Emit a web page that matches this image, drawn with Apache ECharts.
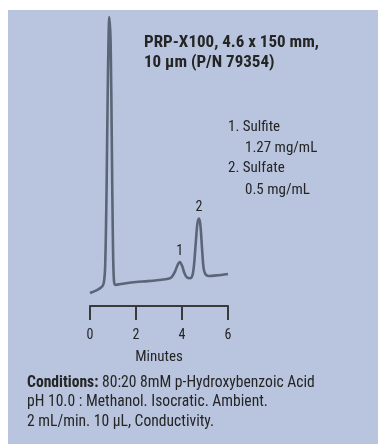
<!DOCTYPE html>
<html>
<head>
<meta charset="utf-8">
<script src="https://cdn.jsdelivr.net/npm/echarts@6/dist/echarts.min.js"></script>
<style>
html,body{margin:0;padding:0;background:#ffffff;}
#c{width:378px;height:446px;}
</style>
</head>
<body>
<div id="c"></div>
<script>
// Retention time (minutes) and detector signal (relative units)
var times  = [0.0, 0.3, 0.5, 0.6, 0.66, 0.72, 0.78, 0.84, 0.9, 0.95, 1.0, 1.04, 1.1, 1.5, 2.0, 2.5, 3.0, 3.4, 3.55, 3.7, 3.8, 3.9, 4.0, 4.1, 4.2, 4.35, 4.45, 4.52, 4.6, 4.67, 4.74, 4.8, 4.87, 4.94, 5.02, 5.15, 5.5, 6.0];
var signal = [4.5, 5.5, 6.5, 8.0, 14, 40, 80, 100, 90, 55, 20, 9, 7.3, 7.8, 8.3, 8.6, 9.0, 9.4, 10.0, 12.0, 14.0, 15.2, 14.0, 11.5, 10.0, 9.6, 10.5, 14, 22, 28.5, 30.3, 28, 20, 13, 11, 10.4, 10.6, 11.1];
var xTicks = [0, 2, 4, 6];
var peakNames = ['1', '2'];
var peakTimes = [3.9, 4.74];
var peakHeights = [15.2, 30.3];
var titleLines = ['PRP-X100, 4.6 x 150 mm,', '10 µm (P/N 79354)'];
var legendLines = ['1. Sulfite', '1.27 mg/mL', '2. Sulfate', '0.5 mg/mL'];
var conditionsLabel = 'Conditions:';
var conditionsLines = [' 80:20 8mM p-Hydroxybenzoic Acid', 'pH 10.0 : Methanol. Isocratic. Ambient.', '2 mL/min. 10 µL, Conductivity.'];

var FONT = "'Roboto Condensed', 'Liberation Sans', sans-serif";
var TXT = '#252525';

var lineData = times.map(function (t, i) { return [t, signal[i]]; });
var marks = peakNames.map(function (n, i) {
  return { name: n, coord: [peakTimes[i], peakHeights[i]] };
});

var chart = echarts.init(document.getElementById('c'), null, { renderer: 'canvas' });
chart.setOption({
  animation: false,
  backgroundColor: 'transparent',
  graphic: [
    { type: 'rect', z: -10, silent: true, shape: { x: 8, y: 10, width: 370, height: 434 }, style: { fill: '#b9c5de' } },
    { type: 'text', left: 144, top: 33, style: { text: titleLines.join('\n'), font: 'bold 17px ' + FONT, fill: TXT, lineHeight: 20 } },
    { type: 'text', left: 228, top: 120, style: { text: legendLines[0], font: '15px ' + FONT, fill: TXT } },
    { type: 'text', left: 245, top: 141, style: { text: legendLines[1], font: '15px ' + FONT, fill: TXT } },
    { type: 'text', left: 228, top: 161, style: { text: legendLines[2], font: '15px ' + FONT, fill: TXT } },
    { type: 'text', left: 245, top: 183, style: { text: legendLines[3], font: '15px ' + FONT, fill: TXT } },
    { type: 'text', left: 27, top: 375, style: {
        text: '{b|' + conditionsLabel + '}{r|' + conditionsLines[0] + '}\n{r|' + conditionsLines[1] + '}\n{r|' + conditionsLines[2] + '}',
        fill: TXT,
        rich: {
          b: { font: 'bold 15.6px ' + FONT, fill: TXT, lineHeight: 19.5 },
          r: { font: '15.6px ' + FONT, fill: TXT, lineHeight: 19.5 }
        }
    } }
  ],
  grid: { left: 90, right: 150, top: 17, bottom: 140, containLabel: false },
  xAxis: {
    type: 'value', min: 0, max: 6, interval: 2,
    axisLine: { show: true, onZero: false, lineStyle: { color: '#3a3a3a', width: 2 } },
    axisTick: { show: true, inside: false, length: 14, lineStyle: { color: '#3a3a3a', width: 2 } },
    splitLine: { show: false },
    axisLabel: { margin: 22, color: TXT, fontFamily: FONT, fontSize: 14,
      customValues: xTicks },
    name: 'Minutes', nameLocation: 'middle', nameGap: 44,
    nameTextStyle: { color: TXT, fontFamily: FONT, fontSize: 15 }
  },
  yAxis: { type: 'value', min: 0, max: 100, show: false, splitLine: { show: false } },
  series: [{
    type: 'line',
    data: lineData,
    smooth: 0.3,
    symbol: 'none',
    lineStyle: { color: '#5a6577', width: 2.6 },
    markPoint: {
      symbol: 'circle', symbolSize: 0,
      label: { show: true, position: 'top', distance: 4, formatter: '{b}', color: TXT, fontFamily: FONT, fontSize: 14 },
      data: marks
    }
  }]
});
</script>
</body>
</html>
